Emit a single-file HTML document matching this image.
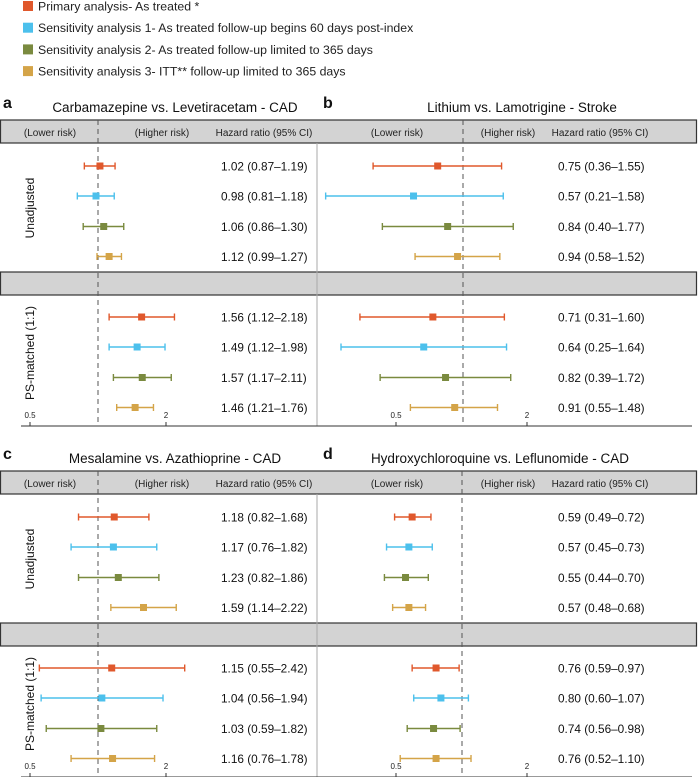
<!DOCTYPE html>
<html><head><meta charset="utf-8"><style>
body{margin:0;background:#fff;width:698px;height:777px;overflow:hidden;font-family:"Liberation Sans",sans-serif}
svg{display:block}
text{font-family:"Liberation Sans",sans-serif}
</style></head><body>
<svg id="chart" width="698" height="777" viewBox="0 0 698 777"></svg>
<script>
const panelLabels = ["a","b","c","d"];
const panelTitles = ["Carbamazepine vs. Levetiracetam - CAD","Lithium vs. Lamotrigine - Stroke","Mesalamine vs. Azathioprine - CAD","Hydroxychloroquine vs. Leflunomide - CAD"];
const seriesNames = ["Primary analysis- As treated *","Sensitivity analysis 1- As treated follow-up begins 60 days post-index","Sensitivity analysis 2- As treated follow-up limited to 365 days","Sensitivity analysis 3- ITT** follow-up limited to 365 days"];
const seriesColors = ["#e0582c","#4cc0ec","#7a8a3f","#d4a448"];
const groupNames = ["Unadjusted","PS-matched (1:1)"];
const tickValues = [0.5, 2];
const tickLabels = ["0.5","2"];
const hrA = [1.02,0.98,1.06,1.12,1.56,1.49,1.57,1.46];
const loA = [0.87,0.81,0.86,0.99,1.12,1.12,1.17,1.21];
const hiA = [1.19,1.18,1.30,1.27,2.18,1.98,2.11,1.76];
const hrB = [0.75,0.57,0.84,0.94,0.71,0.64,0.82,0.91];
const loB = [0.36,0.21,0.40,0.58,0.31,0.25,0.39,0.55];
const hiB = [1.55,1.58,1.77,1.52,1.60,1.64,1.72,1.48];
const hrC = [1.18,1.17,1.23,1.59,1.15,1.04,1.03,1.16];
const loC = [0.82,0.76,0.82,1.14,0.55,0.56,0.59,0.76];
const hiC = [1.68,1.82,1.86,2.22,2.42,1.94,1.82,1.78];
const hrD = [0.59,0.57,0.55,0.57,0.76,0.80,0.74,0.76];
const loD = [0.49,0.45,0.44,0.48,0.59,0.60,0.56,0.52];
const hiD = [0.72,0.73,0.70,0.68,0.97,1.07,0.98,1.10];

const NS="http://www.w3.org/2000/svg";
const svg=document.getElementById('chart');
function mk(tag,attrs,parent,txt){const e=document.createElementNS(NS,tag);for(const k in attrs)e.setAttribute(k,attrs[k]);if(txt!==undefined)e.textContent=txt;(parent||svg).appendChild(e);return e;}
const fmt=v=>v.toFixed(2);

const legendG=mk('g',{});


seriesNames.forEach((n,i)=>{
  const g=mk('g',{},legendG);
  
  
  mk('rect',{x:23,y:1+i*21.7,width:10,height:10,fill:seriesColors[i]},g);
  mk('text',{x:38,y:10.5+i*21.7,'font-size':12.3,fill:'#222'},g,n);
});

const panels=[
 {cx:98,scale:68,top:90,hr:hrA,lo:loA,hi:hiA,txtX:221,lowX:50,higX:162,hzX:264,titleX:175,labX:3},
 {cx:463,scale:61,top:90,hr:hrB,lo:loB,hi:hiB,txtX:558,lowX:397,higX:508,hzX:600,titleX:522,labX:323},
 {cx:98,scale:68,top:441,hr:hrC,lo:loC,hi:hiC,txtX:221,lowX:50,higX:162,hzX:264,titleX:175,labX:3},
 {cx:462,scale:65.5,top:441,hr:hrD,lo:loD,hi:hiD,txtX:558,lowX:397,higX:508,hzX:600,titleX:500,labX:323}
];
const tickPos=[[30,166],[396,527],[30,166],[396,527]];
function xScale(p,v){return p.cx+p.scale*Math.log2(v);}

[90,441].forEach((top,k)=>{
  const hdr=mk('rect',{x:0.5,y:top+30,width:696,height:23,fill:'#d3d3d3',stroke:'#333','stroke-width':1.2});
  
  
  const sep=mk('rect',{x:0.5,y:top+182,width:696,height:23,fill:'#d3d3d3',stroke:'#333','stroke-width':1.2});
  
  
  const vl=mk('line',{x1:317,x2:317,y1:top+53,y2:top+336,stroke:'#aaa','stroke-width':1});
  
  
  const ax=mk('line',{x1:21,x2:692,y1:top+336,y2:top+336,stroke:'#333','stroke-width':1});
  
  
  const g1=mk('text',{x:0,y:0,'font-size':12,fill:'#111','text-anchor':'middle',transform:`translate(34,${top+118}) rotate(-90)`},svg,groupNames[0]);
  
  
  const g2=mk('text',{x:0,y:0,'font-size':12,fill:'#111','text-anchor':'middle',transform:`translate(34,${top+263}) rotate(-90)`},svg,groupNames[1]);
  
  
});

const rowOff=[76,106,136.5,166.5,227,257,287.5,317.5];
panels.forEach((p,pi)=>{
  const g=mk('g',{});
  
  
  const lab=mk('text',{x:p.labX,y:p.top+18,'font-size':16,'font-weight':'bold',fill:'#111'},g,panelLabels[pi]);
  
  
  const t=mk('text',{x:p.titleX,y:p.top+22,'font-size':13.5,fill:'#111','text-anchor':'middle'},g,panelTitles[pi]);
  
  
  const h1=mk('text',{x:p.lowX,y:p.top+46,'font-size':10,fill:'#222','text-anchor':'middle'},g,'(Lower risk)');
  
  
  const h2=mk('text',{x:p.higX,y:p.top+46,'font-size':10,fill:'#222','text-anchor':'middle'},g,'(Higher risk)');
  
  
  const h3=mk('text',{x:p.hzX,y:p.top+46,'font-size':10,fill:'#222','text-anchor':'middle'},g,'Hazard ratio (95% CI)');
  
  
  const ref=mk('line',{x1:xScale(p,1),x2:xScale(p,1),y1:p.top+30,y2:p.top+336,stroke:'#555','stroke-width':1,'stroke-dasharray':'5,4'},g);
  
  
  tickValues.forEach((v,i)=>{
    const x=tickPos[pi][i];
    const tk=mk('line',{x1:x,x2:x,y1:p.top+332,y2:p.top+336,stroke:'#333'},g);
    
    
    const tl=mk('text',{x:x,y:p.top+328,'font-size':8,fill:'#222','text-anchor':'middle'},g,tickLabels[i]);
    
    
  });
  p.hr.forEach((v,i)=>{
    const y=p.top+rowOff[i];
    const c=seriesColors[i%4];
    const xl=xScale(p,p.lo[i]),xh=xScale(p,p.hi[i]),xm=xScale(p,v);
    const eg=mk('g',{},g);
    
    
    mk('line',{x1:xl,x2:xh,y1:y,y2:y,stroke:c,'stroke-width':1.4},eg);
    mk('line',{x1:xl,x2:xl,y1:y-3.5,y2:y+3.5,stroke:c,'stroke-width':1.4},eg);
    mk('line',{x1:xh,x2:xh,y1:y-3.5,y2:y+3.5,stroke:c,'stroke-width':1.4},eg);
    mk('rect',{x:xm-3.5,y:y-3.5,width:7,height:7,fill:c},eg);
    const tx=mk('text',{x:p.txtX,y:y+4.5,'font-size':11.8,fill:'#111'},g,`${fmt(v)} (${fmt(p.lo[i])}\u2013${fmt(p.hi[i])})`);
    
    
  });
});
</script>
</body></html>
